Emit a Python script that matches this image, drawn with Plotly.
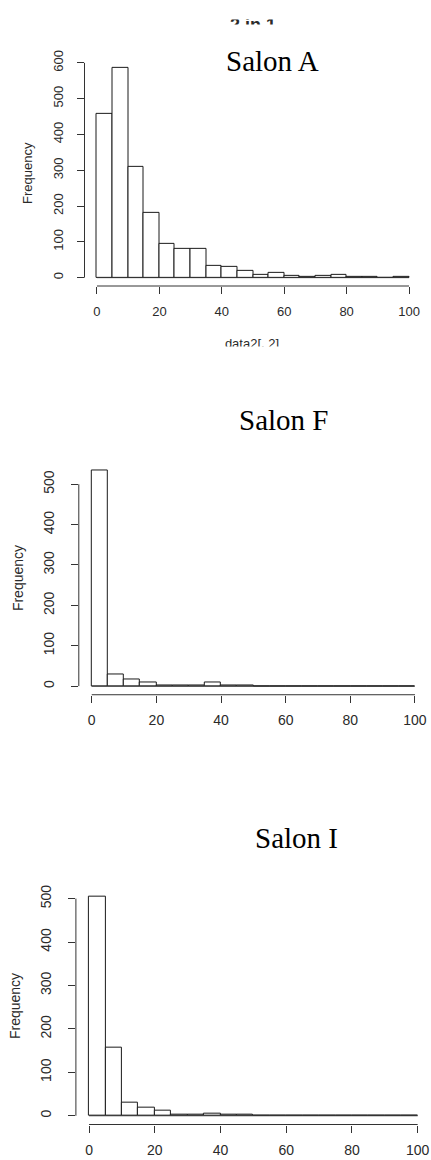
import plotly.graph_objects as go

W, H = 431, 1160

# ---------------- data ----------------
bin_edges = list(range(0, 105, 5))
salon_a = [458, 585, 310, 181, 95, 81, 81, 34, 29, 18, 7, 12, 5, 3, 4, 7, 2, 2, 0, 2]
salon_f = [535, 30, 17, 9, 2, 1, 2, 9, 2, 1, 0, 0, 0, 0, 0, 0, 0, 0, 0, 0]
salon_i = [505, 156, 29, 18, 11, 2, 2, 4, 2, 2, 0, 0, 0, 0, 0, 0, 0, 0, 0, 0]
x_ticks = [0, 20, 40, 60, 80, 100]
y_ticks_a = [0, 100, 200, 300, 400, 500, 600]
y_ticks_f = [0, 100, 200, 300, 400, 500]
y_ticks_i = [0, 100, 200, 300, 400, 500]
titles = ["Salon A", "Salon F", "Salon I"]
y_label = "Frequency"
x_label = "data2[, 2]"
top_title = "2 in 1"

# ---------------- layout geometry (pixels) ----------------
panels = [
    dict(counts=salon_a, yticks=y_ticks_a, title=titles[0],
         box=(84.5, 421.5, 50.3, 278.4), font=13, tcx=272, tcy=51, flx=28,
         xso=6, yso=8),
    dict(counts=salon_f, yticks=y_ticks_f, title=titles[1],
         box=(78.8, 427.9, 455.4, 690.7), font=14, tcx=283, tcy=414, flx=18,
         xso=5, yso=11),
    dict(counts=salon_i, yticks=y_ticks_i, title=titles[2],
         box=(75.9, 430.8, 885.3, 1124.2), font=14, tcx=296, tcy=835.5, flx=15,
         xso=6, yso=11),
]

LINE = "#333333"
BAR_LINE = "#1a1a1a"
TXT = "#2a2a2a"


def px_x(p):
    return p / W


def px_y(p):
    return 1 - p / H


fig = go.Figure()
shapes = []
annotations = []
centers = [(a + b) / 2 for a, b in zip(bin_edges[:-1], bin_edges[1:])]
widths = [b - a for a, b in zip(bin_edges[:-1], bin_edges[1:])]

for i, p in enumerate(panels, start=1):
    xa = "x" if i == 1 else f"x{i}"
    ya = "y" if i == 1 else f"y{i}"
    # baseline (zero-height bins drawn as a line, like R)
    fig.add_trace(go.Scatter(x=[bin_edges[0], bin_edges[-1]], y=[0, 0], mode="lines",
                             line=dict(color=LINE, width=1), xaxis=xa, yaxis=ya,
                             hoverinfo="skip", showlegend=False))
    fig.add_trace(go.Bar(x=centers, y=p["counts"], width=widths,
                         marker=dict(color="white", line=dict(color=BAR_LINE, width=1)),
                         xaxis=xa, yaxis=ya, showlegend=False))
    l, r, t, b = p["box"]
    ymax = max(p["counts"])
    xlo, xhi = bin_edges[0], bin_edges[-1]
    xpad = 0.04 * (xhi - xlo)
    ylo_r, yhi_r = -0.04 * ymax, 1.04 * ymax
    key = "" if i == 1 else str(i)
    fig.update_layout(**{
        f"xaxis{key}": dict(domain=[px_x(l), px_x(r)], range=[xlo - xpad, xhi + xpad],
                            anchor=ya, showgrid=False, zeroline=False, showline=False,
                            tickmode="array", tickvals=x_ticks, ticks="outside",
                            ticklen=7, tickwidth=1, tickcolor=LINE,
                            tickfont=dict(family="Liberation Sans", size=p["font"], color=TXT),
                            ticklabelstandoff=p["xso"]),
        f"yaxis{key}": dict(domain=[px_y(b), px_y(t)], range=[ylo_r, yhi_r],
                            anchor=xa, showgrid=False, zeroline=False, showline=False,
                            tickmode="array", tickvals=p["yticks"], ticks="outside",
                            ticklen=7, tickwidth=1, tickcolor=LINE, tickangle=-90,
                            tickfont=dict(family="Liberation Sans", size=p["font"], color=TXT),
                            ticklabelstandoff=p["yso"]),
    })

    # R-style axis lines spanning first..last tick (paper coords, so not clipped)
    def dx(v):
        return px_x(l + (v - (xlo - xpad)) / ((xhi + xpad) - (xlo - xpad)) * (r - l))

    def dy(v):
        return px_y(b - (v - ylo_r) / (yhi_r - ylo_r) * (b - t))

    shapes.append(dict(type="line", xref="paper", yref="paper",
                       x0=dx(x_ticks[0]), x1=dx(x_ticks[-1]), y0=px_y(b), y1=px_y(b),
                       line=dict(color=LINE, width=1)))
    shapes.append(dict(type="line", xref="paper", yref="paper",
                       x0=px_x(l), x1=px_x(l), y0=dy(p["yticks"][0]), y1=dy(p["yticks"][-1]),
                       line=dict(color=LINE, width=1)))
    annotations.append(dict(text=p["title"], x=px_x(p["tcx"]), y=px_y(p["tcy"]),
                            xref="paper", yref="paper", showarrow=False,
                            xanchor="center", yanchor="middle",
                            font=dict(family="Liberation Serif", size=29, color="black")))
    annotations.append(dict(text=y_label, x=px_x(p["flx"]), y=px_y((t + b) / 2),
                            xref="paper", yref="paper", showarrow=False, textangle=-90,
                            xanchor="center", yanchor="middle",
                            font=dict(family="Liberation Sans", size=p["font"], color=TXT)))

# clipped text strips (labels that are cut off in the reference)
clips = [
    dict(text=top_title, cx=253, cy=17, top=9.5, bottom=14.5, size=18, bold=True),
    dict(text=x_label, cx=252, cy=338, top=325, bottom=339.5, size=13, bold=False),
]
for j, c in enumerate(clips, start=4):
    txt = f"<b>{c['text']}</b>" if c["bold"] else c["text"]
    fig.add_trace(go.Scatter(x=[c["cx"]], y=[c["cy"]], mode="text", text=[txt],
                             textposition="middle center", cliponaxis=True,
                             textfont=dict(family="Liberation Sans", size=c["size"], color=TXT),
                             xaxis=f"x{j}", yaxis=f"y{j}", hoverinfo="skip", showlegend=False))
    fig.update_layout(**{
        f"xaxis{j}": dict(domain=[0, 1], range=[0, W], visible=False, anchor=f"y{j}"),
        f"yaxis{j}": dict(domain=[px_y(c["bottom"]), px_y(c["top"])],
                          range=[c["bottom"], c["top"]], visible=False, anchor=f"x{j}"),
    })

fig.update_layout(width=W, height=H, margin=dict(l=0, r=0, t=0, b=0),
                  paper_bgcolor="white", plot_bgcolor="white",
                  bargap=0, showlegend=False,
                  shapes=shapes, annotations=annotations)

fig.write_html("out.html")
